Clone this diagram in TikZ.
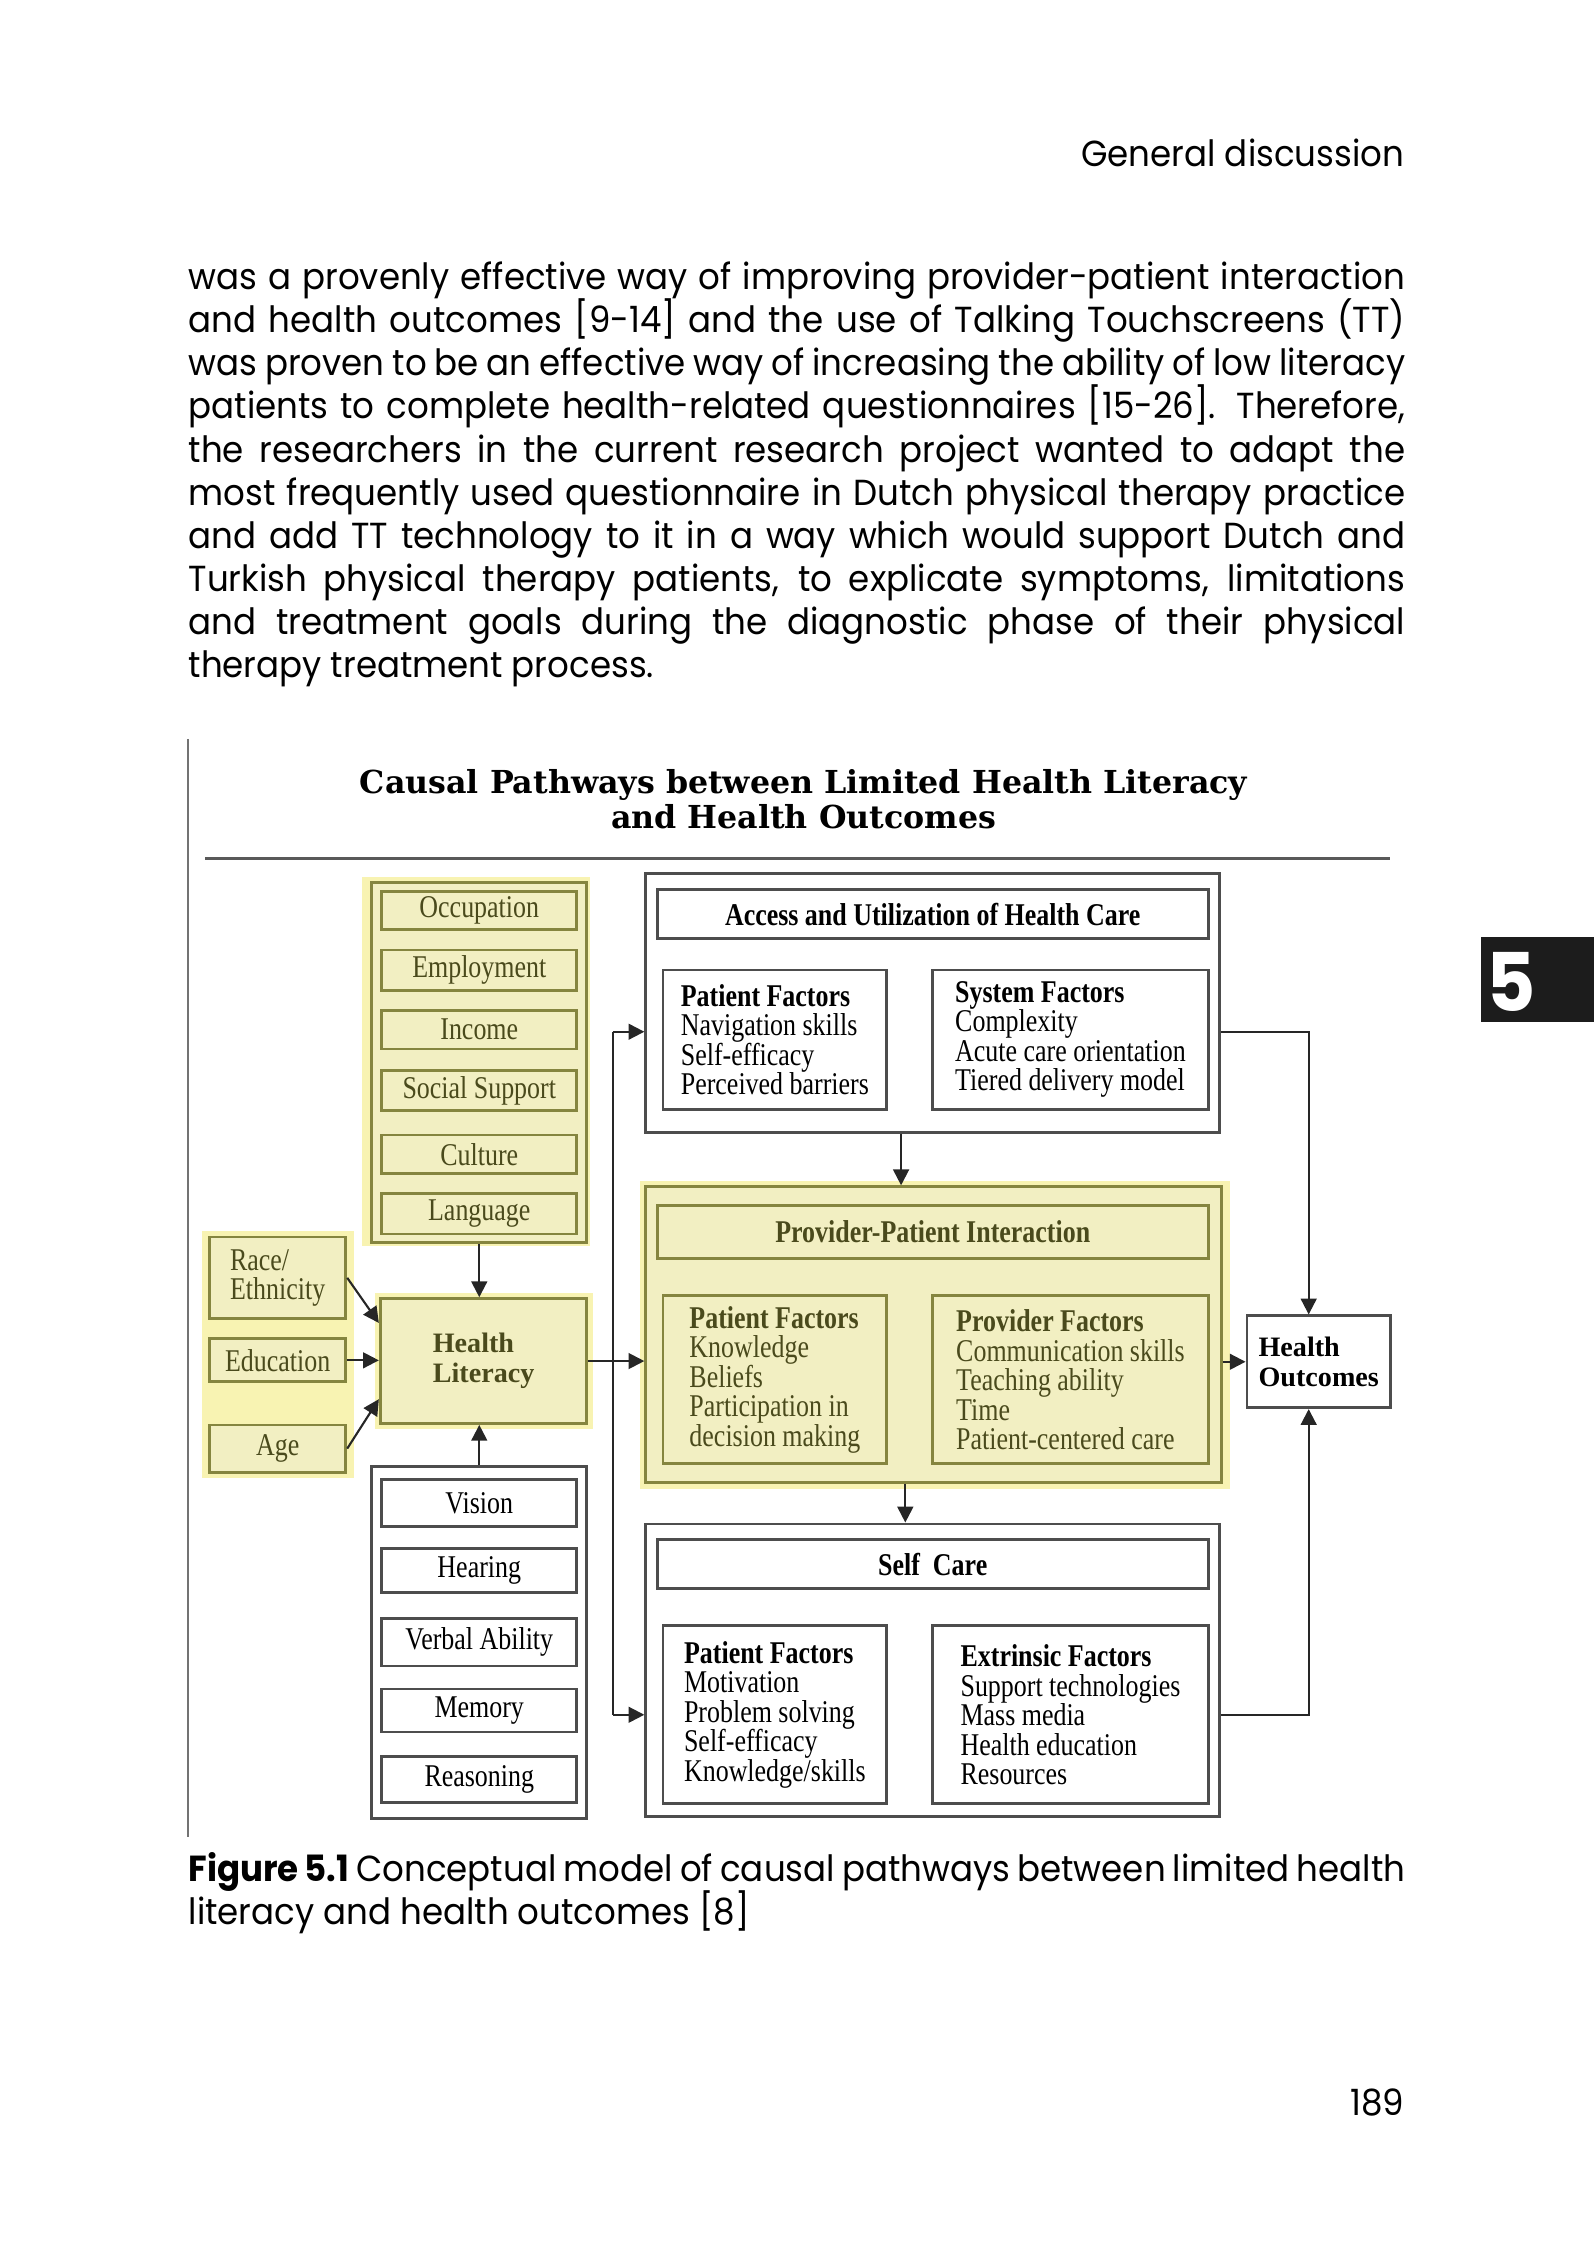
\documentclass[tikz,border=0pt]{standalone}
\usepackage{fontspec}
\setmainfont{Poppins}[FakeStretch=0.94]
\newfontfamily\diagfont{Liberation Serif}[FakeStretch=0.82]
\newfontfamily\hlfont{Liberation Serif}
\newfontfamily\titlefont{DejaVu Serif}
\usetikzlibrary{arrows.meta}
\definecolor{yfill}{HTML}{F2EFC2}
\definecolor{yglow}{HTML}{F8F3B2}
\definecolor{yline}{HTML}{85853F}
\definecolor{ytext}{HTML}{4A4A1C}
\definecolor{wline}{HTML}{4D4D4D}
\definecolor{tabgray}{HTML}{1C1C1C}
\newcommand\diagsize{\diagfont\fontsize{9}{8.4}\selectfont}
\newcommand\pagesize{\fontsize{10.3}{12.25}\selectfont}
\tikzset{span/.style args={#1,#2,#3,#4}{minimum width={(#3-#1)*0.014347cm}, minimum height={(#4-#2)*0.014347cm}, at={({(#1+#3)/2},{(#2+#4)/2})}}}
\begin{document}
\begin{tikzpicture}[x=0.014347cm,y=-0.014347cm,>={Triangle[length=4.5pt,width=4.5pt]}]
	\tikzstyle{glow} = [fill=yglow, inner sep=0pt]
	\tikzstyle{ybox} = [draw=yline, fill=yfill, line width=0.8pt, inner sep=0pt, text=ytext, font=\diagsize, align=left]
	\tikzstyle{wbox} = [draw=wline, fill=white, line width=0.8pt, inner sep=0pt, text=black, font=\diagsize, align=left]
	\tikzstyle{link} = [draw=black!85, line width=0.6pt]
	\tikzstyle{bodyline} = [anchor=base west, inner sep=0pt, font=\pagesize]
	\useasboundingbox (0,0) rectangle (1111,1568);
	% page text
	\node[anchor=base east, inner sep=0pt, font=\pagesize] (header) at (979,116) {General discussion};
	\foreach \t [count=\i] in {
		{was a provenly effective way of improving provider-patient interaction},
		{and health outcomes [9-14] and the use of Talking Touchscreens (TT)},
		{was proven to be an effective way of increasing the ability of low literacy},
		{patients to complete health-related questionnaires [15-26]. Therefore,},
		{the researchers in the current research project wanted to adapt the},
		{most frequently used questionnaire in Dutch physical therapy practice},
		{and add TT technology to it in a way which would support Dutch and},
		{Turkish physical therapy patients, to explicate symptoms, limitations},
		{and treatment goals during the diagnostic phase of their physical}}
		\node[bodyline] (line\i) at (131,{172+30*\i}) {\makebox[346pt][s]{\t}};
	\node[bodyline] (line10) at (131,472) {therapy treatment process.};
	\node[fill=tabgray, inner sep=0pt, span={1032,653,1111,712}] (tab) {};
	\node[text=white, inner sep=0pt, font=\bfseries\fontsize{23}{23}\selectfont] (chapnum) at (1053,684) {5};
	% figure frame and title
	\draw[black!55, line width=0.5pt] (131,515) -- (131,1280);
	\node[inner sep=0pt, align=center, font=\titlefont\bfseries\fontsize{9}{9.8}\selectfont] (title) at (560,557) {Causal Pathways between Limited Health Literacy\\and Health Outcomes};
	\draw[black!65, line width=0.9pt] (143,598) -- (969,598);
	% social factors
	\node[glow, span={252,611,411,868}] (socglow) {};
	\node[ybox, span={259,615,409,866}] (soc) {};
	\foreach \n/\a/\b/\t in {occ/621/648/Occupation, emp/662/690/Employment, inc/704/731/Income, sup/746/774/Social Support, cul/791/818/Culture, lan/832/860/Language}
		\node[ybox, span={266,\a,402,\b}] (\n) {\t};
	% demographic factors
	\node[glow, span={141,858,247,1030}] (demglow) {};
	\node[ybox, span={146,862,241,919}] (race) {Race/\\Ethnicity};
	\node[ybox, span={146,933,241,963}] (edu) {Education};
	\node[ybox, span={146,993,241,1026}] (age) {Age};
	% health literacy
	\node[glow, span={261,901,413,996}] (hlglow) {};
	\node[ybox, font=\hlfont\bfseries\fontsize{8}{8.6}\selectfont, span={265,905,409,992}] (hl) {Health\\Literacy};
	% cognitive factors
	\node[wbox, span={259,1022,409,1267}] (cog) {};
	\foreach \n/\a/\b/\t in {vis/1031/1064/Vision, hea/1079/1110/Hearing, verb/1128/1161/Verbal Ability, mem/1177/1207/Memory, rea/1224/1256/Reasoning}
		\node[wbox, span={266,\a,402,\b}] (\n) {\t};
	% access and utilization
	\node[wbox, span={450,609,850,789}] (acc) {};
	\node[wbox, font=\diagsize\bfseries, span={458,620,842,654}] (acctitle) {Access and Utilization of Health Care};
	\node[wbox, span={462,676,618,773}] (accpat) {\textbf{Patient Factors}\\Navigation skills\\Self-efficacy\\Perceived barriers};
	\node[wbox, span={650,676,842,773}] (accsys) {\textbf{System Factors}\\Complexity\\Acute care orientation\\Tiered delivery model};
	% provider-patient interaction
	\node[glow, span={446,823,857,1038}] (ppiglow) {};
	\node[ybox, span={450,827,851,1033}] (ppi) {};
	\node[ybox, font=\diagsize\bfseries, span={458,840,842,877}] (ppititle) {Provider-Patient Interaction};
	\node[ybox, span={462,903,618,1020}] (ppipat) {\textbf{Patient Factors}\\Knowledge\\Beliefs\\Participation in\\decision making};
	\node[ybox, span={650,903,842,1020}] (ppiprov) {\textbf{Provider Factors}\\Communication skills\\Teaching ability\\Time\\Patient-centered care};
	% self care
	\node[wbox, span={450,1062,850,1266}] (sc) {};
	\node[wbox, font=\diagsize\bfseries, span={458,1073,842,1107}] (sctitle) {Self~~Care};
	\node[wbox, span={462,1133,618,1257}] (scpat) {\textbf{Patient Factors}\\Motivation\\Problem solving\\Self-efficacy\\Knowledge/skills};
	\node[wbox, span={650,1133,842,1257}] (scext) {\textbf{Extrinsic Factors}\\Support technologies\\Mass media\\Health education\\Resources};
	% outcomes
	\node[wbox, font=\hlfont\bfseries\fontsize{8}{8.6}\selectfont, span={869,917,969,981}] (ho) {Health\\Outcomes};
	% connectors
	\coordinate (bustop) at (427,719);
	\coordinate (busbot) at (427,1195);
	\coordinate (hobus) at (912,719);
	\draw[link,->] (race.east) -- (hl.160);
	\draw[link,->] (edu.east) -- (edu.east -| hl.west);
	\draw[link,->] (age.east) -- (hl.200);
	\draw[link,->] (soc.south) -- (soc.south |- hl.north);
	\draw[link,->] (cog.north) -- (cog.north |- hl.south);
	\draw[link,->] (hl.east) -- (hl.east -| ppi.west);
	\draw[link] (bustop) -- (busbot);
	\draw[link,->] (bustop) -- (bustop -| acc.west);
	\draw[link,->] (busbot) -- (busbot -| sc.west);
	\draw[link,->] ([xshift=-9pt]acc.south) -- ([xshift=-9pt]acc.south |- ppi.north);
	\draw[link,->] ([xshift=-8pt]ppi.south) -- ([xshift=-8pt]ppi.south |- sc.north);
	\draw[link,->] (bustop -| acc.east) -- (hobus) -- (hobus |- ho.north);
	\draw[link,->] (ho.west -| ppi.east) -- (ho.west);
	\draw[link,->] (busbot -| sc.east) -- (busbot -| hobus) -- (hobus |- ho.south);
	% caption and page number
	\node[bodyline] (cap1) at (131,1311) {\makebox[346pt][s]{\textbf{Figure 5.1} Conceptual model of causal pathways between limited health}};
	\node[bodyline] (cap2) at (131,1341) {literacy and health outcomes [8]};
	\node[anchor=base east, inner sep=0pt, font=\pagesize] (pagenum) at (979,1474) {189};
\end{tikzpicture}
\end{document}
